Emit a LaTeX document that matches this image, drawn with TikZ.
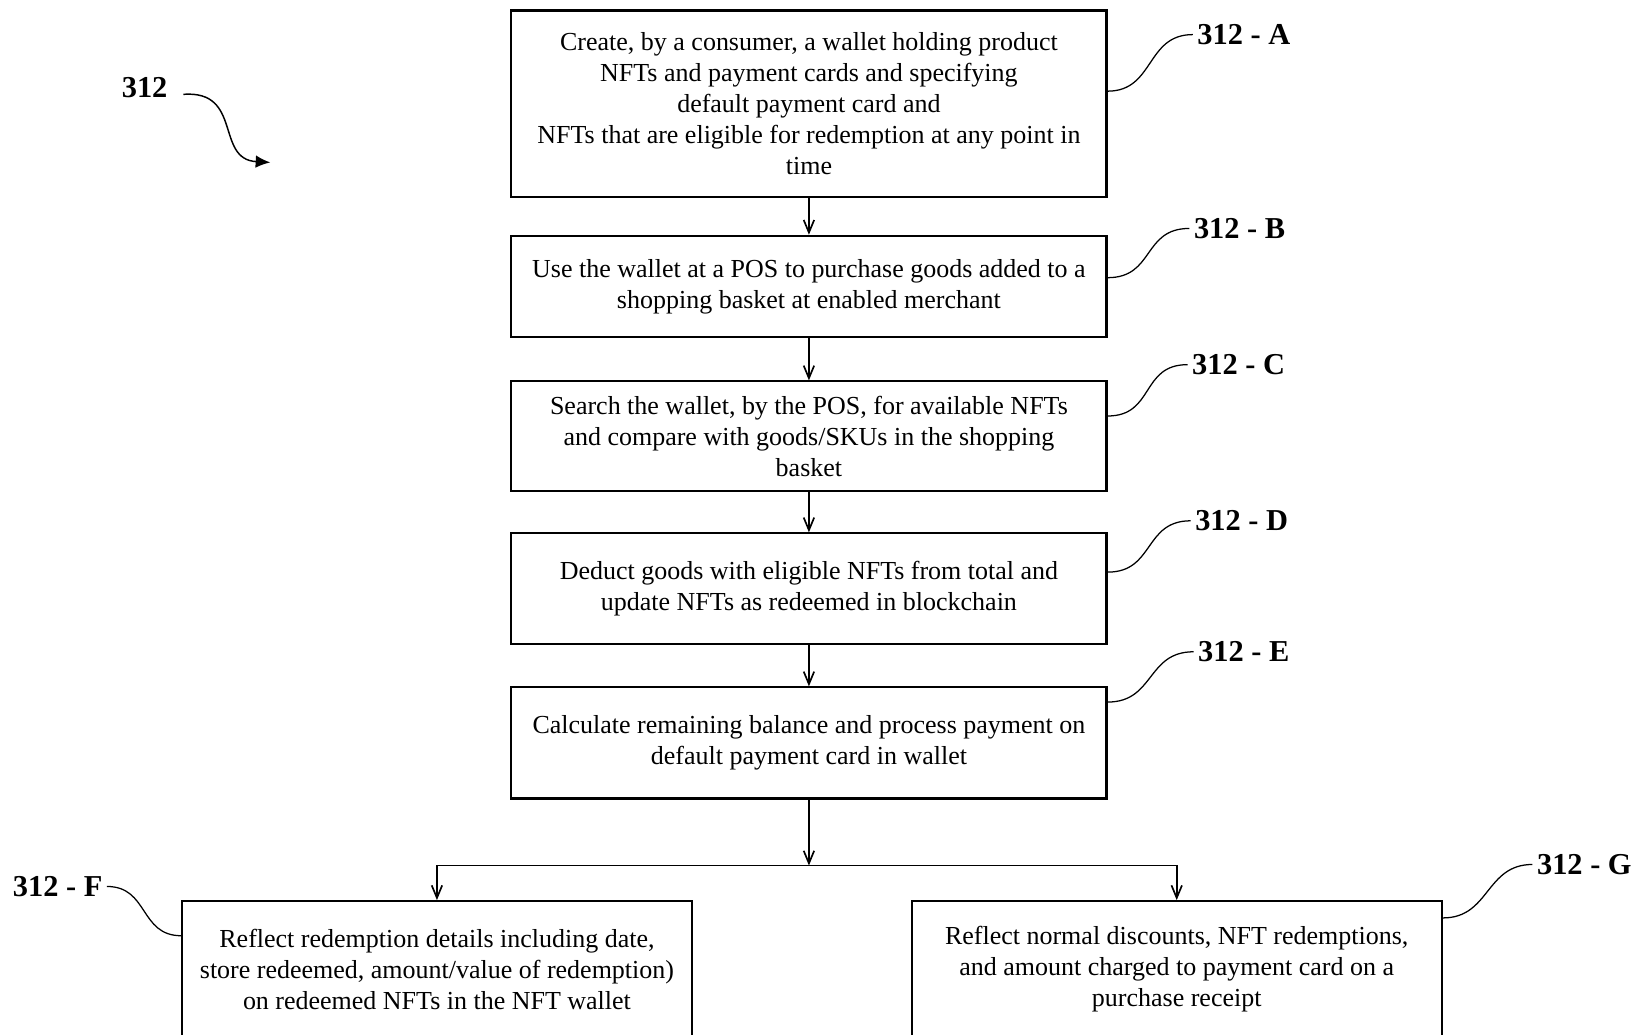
\documentclass[tikz,border=0pt]{standalone}
\usepackage{fontspec}
\setmainfont{Liberation Serif}
\usetikzlibrary{positioning, arrows.meta, calc}

\begin{document}
\begin{tikzpicture}[
        x=0.5pt, y=-0.5pt,
        process/.style={rectangle, draw, line width=1pt, minimum width=284pt, inner sep=0pt, align=center, font=\fontsize{12.4}{14.75}\selectfont},
        tag/.style={inner sep=2pt, font=\bfseries\fontsize{14.5}{16}\selectfont},
        line/.style={draw, line width=0.8pt, -{Straight Barb[length=6pt, width=5pt]}},
        leader/.style={draw, line width=0.6pt}
    ]
        \useasboundingbox (0,0) rectangle (1568,987);

        % Steps
        \node[process, minimum height=89pt] (A) at (772,99) {Create, by a consumer, a wallet holding product\\NFTs and payment cards and specifying\\default payment card and\\NFTs that are eligible for redemption at any point in\\time};
        \node[process, minimum height=48.5pt, below=17.5pt of A] (B) {Use the wallet at a POS to purchase goods added to a\\shopping basket at enabled merchant};
        \node[process, minimum height=52.5pt, below=20pt of B] (C) {Search the wallet, by the POS, for available NFTs\\and compare with goods/SKUs in the shopping\\basket};
        \node[process, minimum height=53pt, below=19pt of C] (D) {Deduct goods with eligible NFTs from total and\\update NFTs as redeemed in blockchain};
        \node[process, minimum height=53pt, below=19.5pt of D] (E) {Calculate remaining balance and process payment on\\default payment card in wallet};
        \node[process, minimum width=243pt, minimum height=65pt] (F) at (417,925) {Reflect redemption details including date,\\store redeemed, amount/value of redemption)\\on redeemed NFTs in the NFT wallet};
        \node[process, minimum width=253pt, minimum height=65pt] (G) at (1123,925) {Reflect normal discounts, NFT redemptions,\\and amount charged to payment card on a\\purchase receipt};

        % Flow
        \coordinate (split) at (772,826);
        \draw[line] (A) -- (B);
        \draw[line] (B) -- (C);
        \draw[line] (C) -- (D);
        \draw[line] (D) -- (E);
        \draw[line] (E) -- (split);
        \draw[line] (split) -| (F.north);
        \draw[line] (split) -| (G.north);

        % Reference numerals
        \node[tag] (tag312) at (138,84) {312};
        \coordinate (tip312) at (258,155);
        \draw[line width=0.7pt, -{Latex[length=7pt, width=6pt]}] (175,90) .. controls (232,86) and (205,152) .. (tip312);

        \node[tag] (tagA) at (1187,33) {312 - A};
        \node[tag] (tagB) at (1183,218) {312 - B};
        \node[tag] (tagC) at (1182,348) {312 - C};
        \node[tag] (tagD) at (1185,497) {312 - D};
        \node[tag] (tagE) at (1187,622) {312 - E};
        \node[tag] (tagF) at (55,846) {312 - F};
        \node[tag] (tagG) at (1512,825) {312 - G};

        \draw[leader] (A.east |- 0,87) .. controls +(45,0) and +(-45,0) .. (tagA.west);
        \draw[leader] (B.east |- 0,265) .. controls +(45,0) and +(-45,0) .. (tagB.west);
        \draw[leader] (C.east |- 0,397) .. controls +(45,0) and +(-45,0) .. (tagC.west);
        \draw[leader] (D.east |- 0,546) .. controls +(45,0) and +(-45,0) .. (tagD.west);
        \draw[leader] (E.east |- 0,670) .. controls +(45,0) and +(-45,0) .. (tagE.west);
        \draw[leader] (tagF.east) .. controls +(40,0) and +(-40,0) .. (F.west |- 0,893);
        \draw[leader] (G.east |- 0,876) .. controls +(45,0) and +(-45,0) .. (tagG.west);

    \end{tikzpicture}
\end{document}
